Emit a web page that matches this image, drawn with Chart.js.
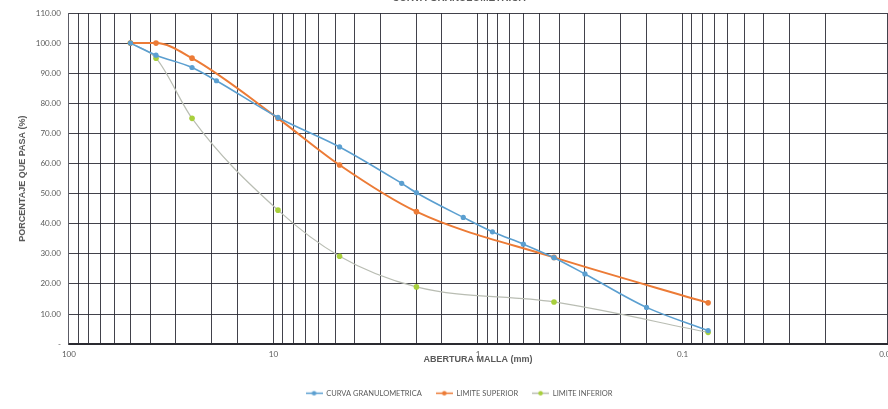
<!DOCTYPE html>
<html>
<head>
<meta charset="utf-8">
<script src="https://cdn.jsdelivr.net/npm/chart.js@4.4.1/dist/chart.umd.min.js"></script>
<style>
html,body{margin:0;padding:0;background:#fff;overflow:hidden;}
#wrap{width:901px;height:409px;position:relative;}
</style>
</head>
<body>
<div id="wrap"><canvas id="c"></canvas></div>
<script>
// ---- data ----
const sievesCurve = [50, 37.5, 25, 19, 9.5, 4.75, 2.36, 2.0, 1.18, 0.85, 0.6, 0.425, 0.3, 0.15, 0.075];
const curvaGranulometrica = [100, 96, 91.9, 87.5, 75.3, 65.5, 53.4, 50.3, 42.1, 37.3, 33.2, 28.7, 23.3, 12.2, 4.5];
const sievesLimits = [50, 37.5, 25, 9.5, 4.75, 2.0, 0.425, 0.075];
const limiteSuperior = [100, 100, 95, 75, 59.5, 44, 28.8, 13.7];
const limiteInferior = [100, 95, 75, 44.5, 29.2, 19, 14, 3.9];
const yTicks = [0, 10, 20, 30, 40, 50, 60, 70, 80, 90, 100, 110];
const xDecades = [100, 10, 1, 0.1, 0.01];
const seriesNames = ['CURVA GRANULOMETRICA', 'LIMITE SUPERIOR', 'LIMITE INFERIOR'];

function pts(xs, ys){ return xs.map((x,i)=>({x:x, y:ys[i]})); }

function legendIcon(lineColor, dotColor){
  const cv = document.createElement('canvas');
  cv.width = 17; cv.height = 7;
  const g = cv.getContext('2d');
  g.strokeStyle = lineColor; g.lineWidth = 1.5;
  g.beginPath(); g.moveTo(0,3.5); g.lineTo(17,3.5); g.stroke();
  g.fillStyle = dotColor;
  g.beginPath(); g.arc(8.5,3.5,2.3,0,Math.PI*2); g.fill();
  return cv;
}

const blue = '#5b9fd0', orange = '#ec7b36', greenLine = '#b9bdb3', greenDot = '#a8cf3c';
const gridCol = 'rgba(40,40,50,0.88)';
const textCol = '#5a5a5a';

const isDecade = v => Math.abs(Math.log10(v) - Math.round(Math.log10(v))) < 1e-6;

new Chart(document.getElementById('c'), {
  type: 'line',
  data: {
    datasets: [
      { label: seriesNames[0], data: pts(sievesCurve, curvaGranulometrica),
        borderColor: blue, backgroundColor: blue, borderWidth: 1.6,
        pointRadius: 2.6, pointBackgroundColor: blue, pointBorderWidth: 0,
        cubicInterpolationMode: 'monotone' },
      { label: seriesNames[1], data: pts(sievesLimits, limiteSuperior),
        borderColor: orange, backgroundColor: orange, borderWidth: 2,
        pointRadius: 2.8, pointBackgroundColor: orange, pointBorderWidth: 0,
        cubicInterpolationMode: 'monotone' },
      { label: seriesNames[2], data: pts(sievesLimits, limiteInferior),
        borderColor: greenLine, backgroundColor: greenDot, borderWidth: 1.2,
        pointRadius: 2.8, pointBackgroundColor: greenDot, pointBorderWidth: 0,
        cubicInterpolationMode: 'monotone' }
    ]
  },
  options: {
    responsive: true,
    maintainAspectRatio: false,
    animation: false,
    layout: { padding: { left: 17, right: 0, top: 0, bottom: 2 } },
    plugins: {
      title: { display: true, text: 'CURVA GRANULOMETRICA', color: textCol,
        font: { family: 'Liberation Sans', size: 10, weight: 'bold' },
        padding: { top: -8, bottom: 9 } },
      legend: { position: 'bottom',
        labels: { color: textCol, font: { family: 'Lato', size: 7.5 },
          usePointStyle: true, pointStyleWidth: 17, padding: 14,
          generateLabels: (chart) => chart.data.datasets.map((d, i) => ({
            text: d.label, fontColor: textCol, datasetIndex: i, hidden: false,
            lineWidth: 0, strokeStyle: 'transparent', fillStyle: 'transparent',
            pointStyle: legendIcon(d.borderColor, d.pointBackgroundColor)
          })) } },
      tooltip: { enabled: false }
    },
    scales: {
      x: { type: 'logarithmic', reverse: true, min: 0.01, max: 100,
        grid: { color: gridCol, lineWidth: 1, drawTicks: false },
        border: { color: '#2a2a30', width: 2 },
        ticks: { autoSkip: false, maxRotation: 0, padding: 6, color: textCol,
          font: { family: 'Lato', size: 8 },
          callback: (v) => isDecade(v) ? String(xDecades.find(d => Math.abs(d - v) < d*1e-6) ?? v) : '' },
        title: { display: true, text: 'ABERTURA MALLA (mm)', color: textCol,
          font: { family: 'Liberation Sans', size: 9, weight: 'bold' },
          padding: { top: -12, bottom: 11 } } },
      y: { min: 0, max: 110,
        afterBuildTicks: (s) => { s.ticks = yTicks.map(v => ({ value: v })); },
        grid: { color: gridCol, lineWidth: 1, drawTicks: false },
        border: { color: 'rgba(120,120,130,0.5)', width: 1 },
        ticks: { padding: 8, color: textCol, font: { family: 'Lato', size: 8 },
          callback: (v) => v === 0 ? '-' : Number(v).toFixed(2) },
        title: { display: true, text: 'PORCENTAJE QUE PASA (%)', color: textCol,
          font: { family: 'Liberation Sans', size: 9, weight: 'bold' },
          padding: { top: 0, bottom: 0 } } }
    }
  }
});
</script>
</body>
</html>
